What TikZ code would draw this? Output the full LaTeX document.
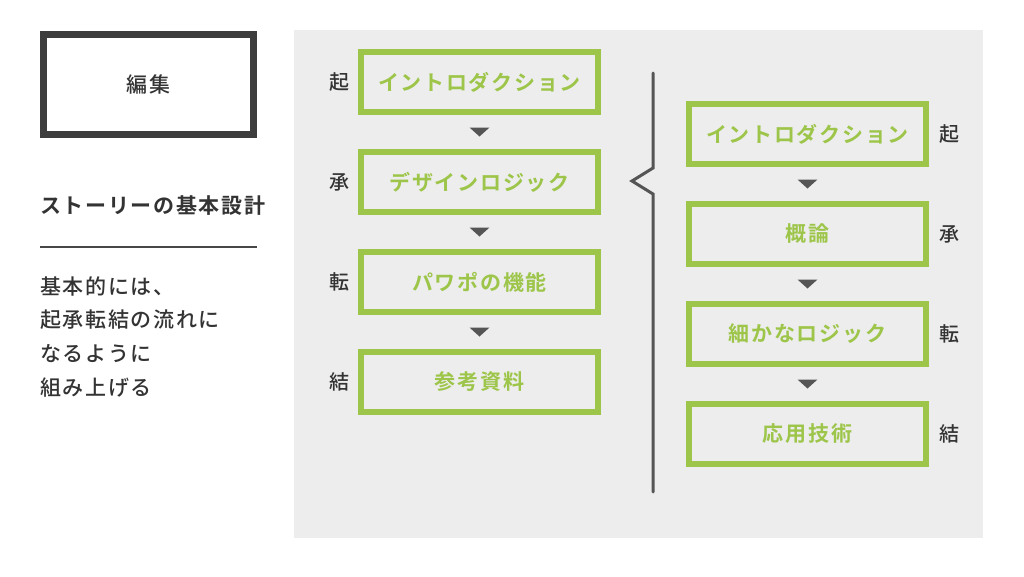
\documentclass[tikz,border=0pt]{standalone}
\usepackage{fontspec}
\setmainfont[LetterSpace=8, UprightFont=* Medium, BoldFont=* Bold]{Noto Sans CJK JP}
\usepackage{xcolor}
\usetikzlibrary{positioning,calc}

\definecolor{leaf}{HTML}{9DC549}
\definecolor{ink}{HTML}{333333}
\definecolor{slate}{HTML}{555555}
\definecolor{panelgray}{HTML}{ECEDEC}

\begin{document}
\begin{tikzpicture}[x=1pt, y=-1pt,
  panel/.style    = {fill=panelgray, draw=none},
  titlebox/.style = {draw=ink!95, line width=7pt, fill=white, minimum width=210pt,
                     minimum height=100pt, font=\fontsize{21}{24}\selectfont, text=ink},
  stepbox/.style  = {draw=leaf, line width=6pt, minimum width=237pt, minimum height=60pt,
                     outer sep=0pt, text=leaf, font=\fontsize{21}{24}\selectfont\bfseries},
  kanji/.style    = {inner sep=0pt, outer sep=0pt, text=ink, font=\fontsize{20}{22}\selectfont},
  body/.style     = {inner sep=0pt, anchor=west, text=ink, font=\fontsize{21}{24}\selectfont},
  tri/.style      = {fill=slate},
  brace/.style    = {draw=slate, line width=3pt, line join=miter, line cap=round}
]
\useasboundingbox (0,0) rectangle (1024,576);

%% ---- left column -------------------------------------------------
\node[titlebox] (edit) at (148.5,84.5) {編集};
\node[body, font=\fontsize{21}{24}\selectfont\bfseries] (story) at (40,206) {ストーリーの基本設計};
\draw[draw=ink!90, line width=1.6pt] (40,247) -- (257,247);
\node[body] (p1) at (40,286) {基本的には、};
\node[body] (p2) at (40,320) {起承転結の流れに};
\node[body] (p3) at (40,354) {なるように};
\node[body] (p4) at (40,388) {組み上げる};

%% ---- grey panel --------------------------------------------------
\fill[panel] (294,30) rectangle (983,538);

%% ---- before ------------------------------------------------------
\node[stepbox] (l1) at (479.5,82) {イントロダクション};
\node[stepbox, below=40pt of l1] (l2) {デザインロジック};
\node[stepbox, below=40pt of l2] (l3) {パワポの機能};
\node[stepbox, below=40pt of l3] (l4) {参考資料};

\node[kanji, left=12pt of l1] (lk1) {起};
\node[kanji, left=12pt of l2] (lk2) {承};
\node[kanji, left=12pt of l3] (lk3) {転};
\node[kanji, left=12pt of l4] (lk4) {結};

%% ---- after -------------------------------------------------------
\node[stepbox] (r1) at (807.5,134) {イントロダクション};
\node[stepbox, below=40pt of r1] (r2) {概論};
\node[stepbox, below=40pt of r2] (r3) {細かなロジック};
\node[stepbox, below=40pt of r3] (r4) {応用技術};

\node[kanji, right=13pt of r1] (rk1) {起};
\node[kanji, right=13pt of r2] (rk2) {承};
\node[kanji, right=13pt of r3] (rk3) {転};
\node[kanji, right=13pt of r4] (rk4) {結};

%% down markers between the steps
\foreach \a/\b in {l1/l2,l2/l3,l3/l4,r1/r2,r2/r3,r3/r4}
  \fill[tri] ($(\a.south)!0.5!(\b.north)$) ++(-10,-4.5) -- ++(20,0) -- ++(-10,9) -- cycle;

%% divider
\draw[brace] (653,73) -- (653,168) -- (632,181) -- (653,194) -- (653,492);
\end{tikzpicture}
\end{document}
